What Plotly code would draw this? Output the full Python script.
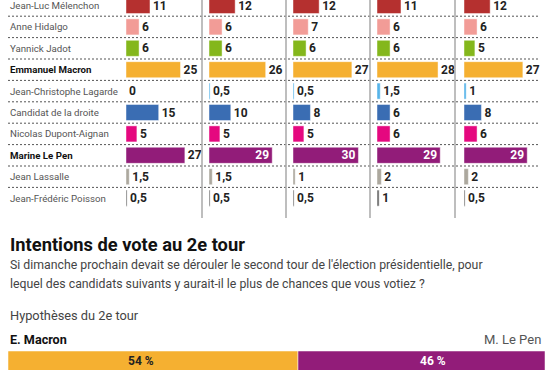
import plotly.graph_objects as go

# ---------------- data ----------------
candidates = [
    "Jean-Luc Mélenchon", "Anne Hidalgo", "Yannick Jadot", "Emmanuel Macron",
    "Jean-Christophe Lagarde", "Candidat de la droite", "Nicolas Dupont-Aignan",
    "Marine Le Pen", "Jean Lassalle", "Jean-Frédéric Poisson",
]
bold_candidates = ["Emmanuel Macron", "Marine Le Pen"]
candidate_colors = [
    "#b5302f", "#f29c97", "#84b71c", "#f5b031", "#56b4e9",
    "#3a6db3", "#e5087f", "#921c79", "#aca89e", "#6a6a6a",
]
wave1 = [11, 6, 6, 25, 0, 15, 5, 27, 1.5, 0.5]
wave2 = [12, 6, 6, 26, 0.5, 10, 5, 29, 1.5, 0.5]
wave3 = [12, 7, 6, 27, 0.5, 8, 5, 30, 1, 0.5]
wave4 = [11, 6, 6, 28, 1.5, 6, 6, 29, 2, 1]
wave5 = [12, 6, 5, 27, 1, 8, 6, 29, 2, 0.5]
waves = [wave1, wave2, wave3, wave4, wave5]

second_round_names = ["E. Macron", "M. Le Pen"]
second_round_values = [54, 46]
second_round_colors = ["#f5b031", "#921c79"]

title = "Intentions de vote au 2e tour"
subtitle1 = "Si dimanche prochain devait se dérouler le second tour de l'élection présidentielle, pour"
subtitle2 = "lequel des candidats suivants y aurait-il le plus de chances que vous votiez ?"
hypo = "Hypothèses du 2e tour"

# ---------------- layout helpers ----------------
W, H = 555, 370
FONT = "Roboto"
def px(x):
    return x / W
def py(y):
    return 1 - y / H

def fmt(v):
    return (str(int(v)) if float(v).is_integer() else str(v).replace(".", ","))

col_starts = [126, 209, 293, 377, 464]
col_width = 72
scale = 2.18  # px per point
sep_x = [202, 286, 370, 455]
label_room = 78  # px available for bar + outside label

top_px, bot_px = 0, 220
row0, row_step = 5.5, 21.4
span = (bot_px - top_px) / row_step
lo = -(row0 - top_px) / row_step
hi = lo + span

fig = go.Figure()
n = len(candidates)
for c, vals in enumerate(waves):
    ax = "" if c == 0 else str(c + 1)
    inside = [(v * scale + 16 > label_room) for v in vals]
    fig.add_trace(go.Bar(
        x=vals, y=candidates, orientation="h",
        xaxis="x" + ax, yaxis="y",
        marker=dict(color=candidate_colors, line=dict(color="rgba(255,255,255,0.45)", width=1)),
        width=0.75,
        text=[fmt(v) for v in vals],
        textposition=["inside" if i else "outside" for i in inside],
        insidetextanchor="end",
        textangle=0,
        textfont=dict(family=FONT, size=12, weight="bold",
                      color=["#ffffff" if i else "#222222" for i in inside]),
        constraintext="none",
        cliponaxis=False,
        hoverinfo="skip",
        showlegend=False,
    ))
    fig.layout["xaxis" + ax] = dict(
        domain=[px(col_starts[c]), px(col_starts[c] + col_width)],
        range=[0, col_width / scale], visible=False, fixedrange=True,
        anchor="y",
    )

fig.update_layout(yaxis=dict(
    domain=[py(bot_px), py(top_px)], type="category",
    categoryorder="array", categoryarray=candidates,
    range=[hi, lo], visible=False, fixedrange=True,
))

# second round stacked bar
base = 0
for name, v, col in zip(second_round_names, second_round_values, second_round_colors):
    fig.add_trace(go.Bar(
        x=[v], y=[0], base=[base], orientation="h",
        xaxis="x6", yaxis="y6", width=1,
        marker=dict(color=col, line=dict(color="rgba(255,255,255,0.5)", width=1)),
        hoverinfo="skip", showlegend=False,
    ))
    base += v
fig.update_layout(
    xaxis6=dict(domain=[px(8), px(545)], range=[0, sum(second_round_values)],
                visible=False, anchor="y6", fixedrange=True),
    yaxis6=dict(domain=[0, py(351)], range=[-0.2, 0.5], visible=False,
                anchor="x6", fixedrange=True),
)

ann = []
for cand in candidates:
    b = cand in bold_candidates
    ann.append(dict(
        x=px(8), xref="paper", y=cand, yref="y", xanchor="left", yanchor="middle",
        text=cand, showarrow=False,
        font=dict(family=FONT, size=9.7, color="#111111" if b else "#555555",
                  weight="bold" if b else "normal"),
    ))
cum = 0
label_shift = [-12, 12]
label_col = ["#222222", "#ffffff"]
for i, v in enumerate(second_round_values):
    ann.append(dict(
        x=cum + v / 2, xref="x6", y=py(361), yref="paper",
        text=f"{v} %", showarrow=False, xshift=label_shift[i],
        font=dict(family=FONT, size=12, weight="bold", color=label_col[i]),
        xanchor="center", yanchor="middle",
    ))
    cum += v

ann += [
    dict(x=px(8), y=py(244), xref="paper", yref="paper", xanchor="left", yanchor="middle",
         text=title, showarrow=False,
         font=dict(family=FONT, size=18.3, weight="bold", color="#111111")),
    dict(x=px(8), y=py(265), xref="paper", yref="paper", xanchor="left", yanchor="middle",
         text=subtitle1, showarrow=False, font=dict(family=FONT, size=12.3, color="#444444")),
    dict(x=px(8), y=py(284), xref="paper", yref="paper", xanchor="left", yanchor="middle",
         text=subtitle2, showarrow=False, font=dict(family=FONT, size=12.3, color="#444444")),
    dict(x=px(8), y=py(315), xref="paper", yref="paper", xanchor="left", yanchor="middle",
         text=hypo, showarrow=False, font=dict(family=FONT, size=12.8, color="#444444")),
    dict(x=px(8), y=py(339), xref="paper", yref="paper", xanchor="left", yanchor="middle",
         text=second_round_names[0], showarrow=False,
         font=dict(family=FONT, size=12.6, weight="bold", color="#111111")),
    dict(x=px(543), y=py(339), xref="paper", yref="paper", xanchor="right", yanchor="middle",
         text=second_round_names[1], showarrow=False,
         font=dict(family=FONT, size=13, color="#555555")),
]

shapes = []
for i in range(n - 1):
    shapes.append(dict(type="line", xref="paper", yref="y",
                       x0=px(8), x1=px(540), y0=i + 0.5, y1=i + 0.5,
                       line=dict(color="#555555", width=1, dash="2px,2px"), layer="below"))
for sx in sep_x:
    shapes.append(dict(type="line", xref="paper", yref="paper",
                       x0=px(sx), x1=px(sx), y0=py(0), y1=py(218),
                       line=dict(color="#a8a8a8", width=1.5)))

fig.update_layout(
    width=W, height=H, margin=dict(l=0, r=0, t=0, b=0),
    paper_bgcolor="white", plot_bgcolor="white",
    barmode="overlay", annotations=ann, shapes=shapes,
    font=dict(family=FONT),
)
fig.write_html("out.html",
               config={"displayModeBar": False, "staticPlot": True},
               post_script="document.body.style.margin='0';document.body.style.overflow='hidden';")
